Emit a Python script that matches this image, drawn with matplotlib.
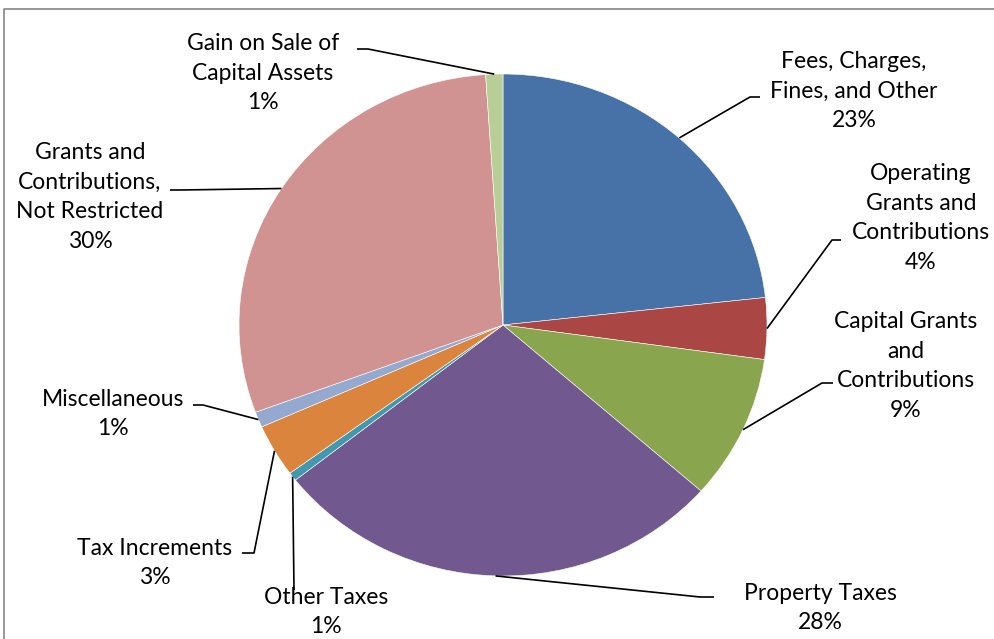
import matplotlib
matplotlib.use("Agg")
import matplotlib.pyplot as plt
from matplotlib.lines import Line2D
import numpy as np

# Revenue shares by source (percent of total revenues)
categories = [
    "Fees, Charges,\nFines, and Other",
    "Operating\nGrants and\nContributions",
    "Capital Grants\nand\nContributions",
    "Property Taxes",
    "Other Taxes",
    "Tax Increments",
    "Miscellaneous",
    "Grants and\nContributions,\nNot Restricted",
    "Gain on Sale of\nCapital Assets",
]
shares = [23.25, 3.95, 9.3, 27.9, 0.55, 3.4, 1.0, 29.6, 1.05]

colors = ["#4672A8", "#AA4643", "#89A54E", "#71588F", "#4198AF",
          "#DB843D", "#93A9CF", "#D19392", "#B9CD96"]

# Label layout in figure pixels: text centre, leader elbow, leader end
label_pos = [(854, 91), (921, 218), (906, 366), (820, 608), (326, 612),
             (155, 563), (113, 414), (90, 197), (263, 73)]
elbows = [(750, 97), (832, 240), (822, 383), (700, 597), (294, 590),
          (254, 553), (203, 405), (180, 190), (368, 49)]
stub_ends = [(760, 97), (841, 240), (833, 383), (714, 597), (294, 590),
             (242, 553), (193, 405), (170, 190), (357, 49)]

W, H = 995, 639
fig = plt.figure(figsize=(W / 100, H / 100), dpi=100)
fig.patch.set_facecolor("white")

# Pie axes: centre (503, 325) px, radii 264 px x 251 px
cx, cy, rx, ry = 503, 325, 264, 251
ax_pie = fig.add_axes([(cx - rx) / W, (H - cy - ry) / H, 2 * rx / W, 2 * ry / H])
wedges, _ = ax_pie.pie(shares, colors=colors, startangle=90, counterclock=False,
                       wedgeprops=dict(edgecolor="white", linewidth=0.4))
ax_pie.set_aspect("auto")
ax_pie.set_xlim(-1, 1)
ax_pie.set_ylim(-1, 1)
ax_pie.axis("off")

# Overlay in pixel coordinates for labels and leader lines
ax = fig.add_axes([0, 0, 1, 1], zorder=5)
ax.set_xlim(0, W)
ax.set_ylim(H, 0)
ax.axis("off")
ax.patch.set_alpha(0)

total = sum(shares)
to_px = ax_pie.transData + ax.transData.inverted()
for w, name, val, tp, el, se in zip(wedges, categories, shares, label_pos, elbows, stub_ends):
    mid = np.deg2rad((w.theta1 + w.theta2) / 2)
    ax_pt = to_px.transform((np.cos(mid), np.sin(mid)))
    ax.plot([ax_pt[0], el[0], se[0]], [ax_pt[1], el[1], se[1]],
            color="black", lw=1.2, solid_capstyle="butt")
    pct = int(val / total * 100 + 0.5)
    ax.text(tp[0], tp[1], f"{name}\n{pct}%", ha="center", va="center",
            multialignment="center", fontsize=16.5, family="Lato",
            linespacing=1.5, color="black")

# Chart-area border (top and left edges)
fig.add_artist(Line2D([4.5 / W, 4.5 / W, 1], [0, 1 - 9 / H, 1 - 9 / H],
                      transform=fig.transFigure, color="#868686", lw=1.2))

fig.savefig("out.png", dpi=100, facecolor="white")
